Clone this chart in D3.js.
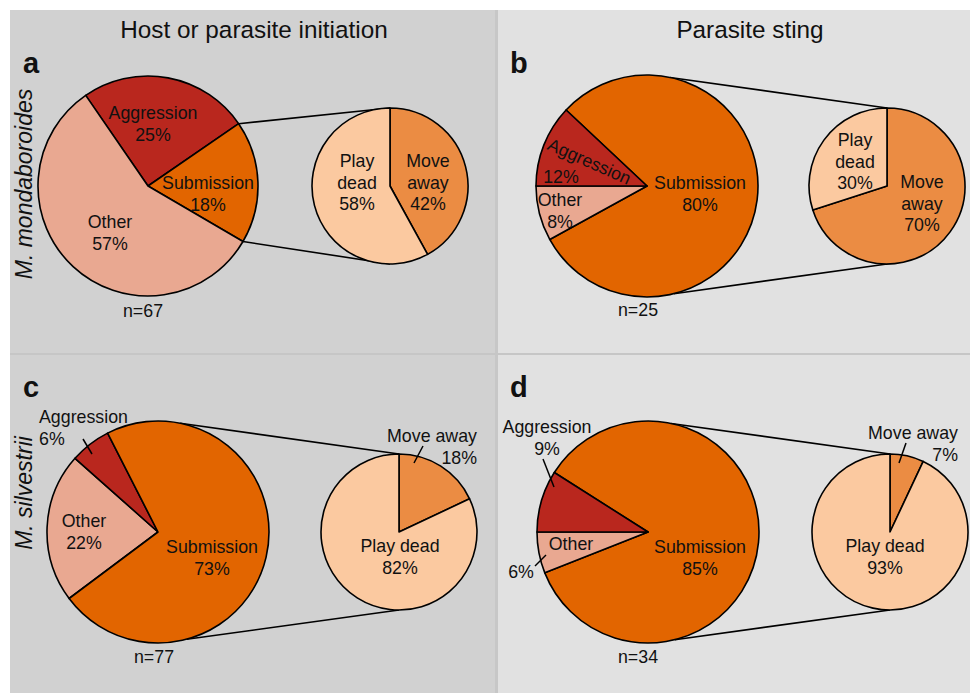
<!DOCTYPE html>
<html>
<head>
<meta charset="utf-8">
<script src="https://cdn.jsdelivr.net/npm/d3@7"></script>
<style>
  html, body { margin: 0; padding: 0; background: #ffffff; }
  svg { display: block; }
  text { font-family: "Liberation Sans", Arial, Helvetica, sans-serif; fill: #111; }
</style>
</head>
<body>
<svg id="chart" width="970" height="693"></svg>
<script>
// ---------------- data ----------------
const panelLetters   = ["a", "b", "c", "d"];
const columnTitles   = ["Host or parasite initiation", "Parasite sting"];
const rowLabels      = ["M. mondaboroides", "M. silvestrii"];
const bigCategories  = ["Aggression", "Submission", "Other"];
const aggressionPct  = [25, 12, 6, 9];
const submissionPct  = [18, 80, 73, 85];
const otherPct       = [57, 8, 22, 6];
const smallCategories = ["Move away", "Play dead"];
const moveAwayPct    = [42, 70, 18, 7];
const playDeadPct    = [58, 30, 82, 93];
const sampleSizes    = [67, 25, 77, 34];

// ---------------- styles ----------------
const colors = {
  "Aggression": "#b9271e",
  "Submission": "#e26500",
  "Other": "#e9a891",
  "Move away": "#eb8c43",
  "Play dead": "#fbc9a0"
};
const deg = Math.PI / 180;
const labelSize = "17.8px";

// ---------------- layout ----------------
const layout = [
  { big: [148, 186, 110], small: [390, 186, 78],
    order: ["Aggression", "Submission", "Other"], start: -34.5, connect: null,
    labels: {
      "Aggression": { x: 153, y: 119, lines: ["Aggression", "25%"] },
      "Submission": { x: 208, y: 189, lines: ["Submission", "18%"] },
      "Other":      { x: 110, y: 228, lines: ["Other", "57%"] }
    },
    smallLabels: {
      "Play dead": { x: 357, y: 167, lines: ["Play", "dead", "58%"] },
      "Move away": { x: 428, y: 167, lines: ["Move", "away", "42%"] }
    },
    n: { x: 143, y: 317 } },
  { big: [647, 186, 111], small: [887, 186, 78],
    order: ["Submission", "Other", "Aggression"], start: -46.8, connect: [12, 166],
    labels: {
      "Aggression": { x: 587, y: 167, lines: ["Aggression"], rotate: 24 },
      "AggressionPct": { x: 561, y: 183, lines: ["12%"] },
      "Submission": { x: 700, y: 189, lines: ["Submission", "80%"] },
      "Other":      { x: 560, y: 206, lines: ["Other", "8%"] }
    },
    smallLabels: {
      "Play dead": { x: 855, y: 146, lines: ["Play", "dead", "30%"] },
      "Move away": { x: 922, y: 188, lines: ["Move", "away", "70%"] }
    },
    n: { x: 638, y: 316 } },
  { big: [158, 532, 111], small: [399, 532, 78],
    order: ["Other", "Aggression", "Submission"], start: -126.8, connect: [11.5, 165],
    labels: {
      "Aggression": { x: 39, y: 423, lines: ["Aggression", "6%"], anchor: "start",
                      leader: [[83, 439], [92, 454]] },
      "Submission": { x: 212, y: 553, lines: ["Submission", "73%"] },
      "Other":      { x: 84, y: 527, lines: ["Other", "22%"] }
    },
    smallLabels: {
      "Move away": { x: 477, y: 442, lines: ["Move away", "18%"], anchor: "end",
                     leader: [[423, 446], [414, 463]] },
      "Play dead": { x: 400, y: 552, lines: ["Play dead", "82%"] }
    },
    n: { x: 154, y: 663 } },
  { big: [648, 532, 111], small: [890, 532, 78],
    order: ["Submission", "Other", "Aggression"], start: -57.6, connect: [12, 166],
    labels: {
      "Aggression": { x: 547, y: 433, lines: ["Aggression", "9%"],
                      leader: [[543, 459], [554, 487]] },
      "Submission": { x: 700, y: 553, lines: ["Submission", "85%"] },
      "Other":      { x: 571, y: 550, lines: ["Other"] },
      "OtherPct":   { x: 521, y: 578, lines: ["6%"], leader: [[535, 566], [546, 555]] }
    },
    smallLabels: {
      "Move away": { x: 958, y: 439, lines: ["Move away", "7%"], anchor: "end",
                     leader: [[906, 443], [899, 463]] },
      "Play dead": { x: 885, y: 552, lines: ["Play dead", "93%"] }
    },
    n: { x: 638, y: 663 } }
];

const svg = d3.select("#chart");

// backgrounds
svg.append("rect").attr("x", 10).attr("y", 10).attr("width", 485).attr("height", 683).attr("fill", "#d1d1d1");
svg.append("rect").attr("x", 495).attr("y", 10).attr("width", 3).attr("height", 683).attr("fill", "#c7c7c7");
svg.append("rect").attr("x", 498).attr("y", 10).attr("width", 472).attr("height", 683).attr("fill", "#e1e1e1");
svg.append("rect").attr("x", 10).attr("y", 353).attr("width", 960).attr("height", 2).attr("fill", "#c6c6c6");

// column titles
const titleX = [254, 750];
columnTitles.forEach((t, i) => {
  svg.append("text").attr("x", titleX[i]).attr("y", 38).attr("text-anchor", "middle")
    .style("font-size", "24.3px").text(t);
});
// row labels
const rowY = [184, 493];
rowLabels.forEach((t, i) => {
  svg.append("text").attr("transform", `translate(32,${rowY[i]}) rotate(-90)`)
    .attr("text-anchor", "middle").style("font-size", "23px").style("font-style", "italic").text(t);
});
// panel letters
const letterPos = [[23, 73], [510, 73], [23, 397], [510, 397]];
panelLetters.forEach((l, i) => {
  svg.append("text").attr("x", letterPos[i][0]).attr("y", letterPos[i][1])
    .style("font-size", "29px").style("font-weight", "bold").text(l);
});

function drawLabel(g, spec) {
  const anchor = spec.anchor || "middle";
  const t = g.append("text")
    .attr("text-anchor", anchor)
    .style("font-size", labelSize);
  if (spec.rotate) t.attr("transform", `rotate(${spec.rotate},${spec.x},${spec.y})`);
  spec.lines.forEach((line, k) => {
    t.append("tspan").attr("x", spec.x).attr("y", spec.y + k * 21.5).text(line);
  });
  if (spec.leader) {
    g.append("line")
      .attr("x1", spec.leader[0][0]).attr("y1", spec.leader[0][1])
      .attr("x2", spec.leader[1][0]).attr("y2", spec.leader[1][1])
      .attr("stroke", "#000").attr("stroke-width", 1.5);
  }
}

const valueOf = (cat, i) => ({
  "Aggression": aggressionPct[i], "Submission": submissionPct[i], "Other": otherPct[i],
  "Move away": moveAwayPct[i], "Play dead": playDeadPct[i]
})[cat];

layout.forEach((L, i) => {
  const g = svg.append("g");
  const [bx, by, br] = L.big;
  const [sx, sy, sr] = L.small;

  const bigPie = d3.pie().sort(null).value(d => d.v)
    .startAngle(L.start * deg).endAngle(L.start * deg + 2 * Math.PI);
  const bigArcs = bigPie(L.order.map(c => ({ cat: c, v: valueOf(c, i) })));
  const smallPie = d3.pie().sort(null).value(d => d.v)
    .startAngle(0).endAngle(2 * Math.PI);
  const smallArcs = smallPie(smallCategories.map(c => ({ cat: c, v: valueOf(c, i) })));

  // connector lines
  let a1, a2;
  if (L.connect) { a1 = L.connect[0] * deg; a2 = L.connect[1] * deg; }
  else {
    const sub = bigArcs.find(d => d.data.cat === "Submission");
    a1 = sub.startAngle; a2 = sub.endAngle;
  }
  const pt = (a) => [bx + br * Math.sin(a), by - br * Math.cos(a)];
  [[pt(a1), [sx, sy - sr]], [pt(a2), [sx, sy + sr]]].forEach(([p, q]) => {
    g.append("line").attr("x1", p[0]).attr("y1", p[1]).attr("x2", q[0]).attr("y2", q[1])
      .attr("stroke", "#000").attr("stroke-width", 1.6);
  });

  const bigArc = d3.arc().innerRadius(0).outerRadius(br);
  g.append("g").attr("transform", `translate(${bx},${by})`)
    .selectAll("path").data(bigArcs).join("path")
    .attr("d", bigArc).attr("fill", d => colors[d.data.cat])
    .attr("stroke", "#000").attr("stroke-width", 1.6).attr("stroke-linejoin", "round");

  const smallArc = d3.arc().innerRadius(0).outerRadius(sr);
  g.append("g").attr("transform", `translate(${sx},${sy})`)
    .selectAll("path").data(smallArcs).join("path")
    .attr("d", smallArc).attr("fill", d => colors[d.data.cat])
    .attr("stroke", "#000").attr("stroke-width", 1.6).attr("stroke-linejoin", "round");

  Object.values(L.labels).forEach(spec => drawLabel(g, spec));
  Object.values(L.smallLabels).forEach(spec => drawLabel(g, spec));

  g.append("text").attr("x", L.n.x).attr("y", L.n.y).attr("text-anchor", "middle")
    .style("font-size", labelSize).text("n=" + sampleSizes[i]);
});
</script>
</body>
</html>
